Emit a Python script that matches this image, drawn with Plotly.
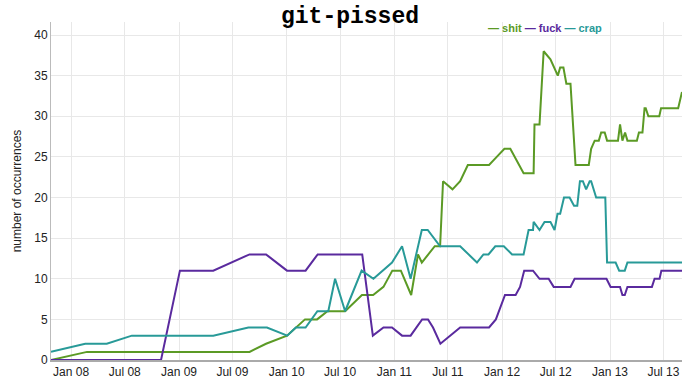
import plotly.graph_objects as go

# ---- data ----
shit_dates = ["2007-10-25", "2008-02-24", "2009-08-28", "2009-10-23", "2010-01-02", "2010-03-04",
              "2010-04-14", "2010-05-19", "2010-07-18", "2010-09-13", "2010-10-21", "2010-11-25",
              "2010-12-25", "2011-01-23", "2011-02-27", "2011-03-22", "2011-04-04", "2011-05-18",
              "2011-06-05", "2011-06-15", "2011-07-17", "2011-08-12", "2011-09-07", "2011-11-18",
              "2011-12-14", "2012-01-09", "2012-01-29", "2012-03-14", "2012-04-17", "2012-04-20",
              "2012-05-07", "2012-05-21", "2012-06-13", "2012-07-08", "2012-07-16", "2012-07-27",
              "2012-08-06", "2012-08-20", "2012-09-06", "2012-10-21", "2012-10-29", "2012-11-10",
              "2012-11-24", "2012-12-02", "2012-12-14", "2012-12-22", "2013-01-28", "2013-02-04",
              "2013-02-12", "2013-02-21", "2013-03-01", "2013-04-02", "2013-04-09", "2013-04-21",
              "2013-04-28", "2013-05-02", "2013-05-11", "2013-06-17", "2013-06-23", "2013-08-20",
              "2013-09-02"]
shit_values = [0, 1, 1, 2, 3, 5,
               5, 6, 6, 8, 8, 9,
               11, 11, 8, 13, 12, 14,
               14, 22, 21, 22, 24, 24,
               25, 26, 26, 23, 23, 29,
               29, 38, 37, 35, 36, 36,
               34, 34, 24, 24, 26, 27,
               27, 28, 28, 27, 27, 29,
               27, 28, 27, 27, 28, 28,
               31, 31, 30, 30, 31, 31,
               33]

fuck_dates = ["2007-10-25", "2008-11-01", "2009-01-04", "2009-04-27", "2009-08-28", "2009-10-23",
              "2010-01-02", "2010-03-06", "2010-04-16", "2010-09-14", "2010-10-20", "2010-11-25",
              "2010-12-24", "2011-01-27", "2011-02-25", "2011-03-18", "2011-04-05", "2011-04-25",
              "2011-05-12", "2011-06-06", "2011-08-12", "2011-11-18", "2011-12-11", "2012-01-11",
              "2012-02-16", "2012-03-02", "2012-03-16", "2012-04-15", "2012-05-07", "2012-06-07",
              "2012-06-24", "2012-08-20", "2012-09-03", "2012-12-20", "2013-01-03", "2013-02-04",
              "2013-02-12", "2013-02-20", "2013-03-01", "2013-05-23", "2013-06-01", "2013-06-18",
              "2013-06-24", "2013-09-02"]
fuck_values = [0, 0, 11, 11, 13, 13,
               11, 11, 13, 13, 3, 4,
               4, 3, 3, 4, 5, 5,
               4, 2, 4, 4, 5, 8,
               8, 9, 11, 11, 10, 10,
               9, 9, 10, 10, 9, 9,
               8, 8, 9, 9, 10, 10,
               11, 11]

crap_dates = ["2007-10-25", "2008-02-18", "2008-05-01", "2008-07-25", "2009-04-27", "2009-08-24",
              "2009-10-26", "2010-01-03", "2010-02-01", "2010-03-06", "2010-04-15", "2010-05-22",
              "2010-06-14", "2010-07-18", "2010-09-12", "2010-10-22", "2010-12-24", "2011-01-27",
              "2011-02-25", "2011-04-04", "2011-04-24", "2011-06-05", "2011-08-12", "2011-10-08",
              "2011-10-30", "2011-11-16", "2011-12-09", "2012-01-07", "2012-02-04", "2012-03-14",
              "2012-03-31", "2012-04-15", "2012-04-17", "2012-05-07", "2012-05-24", "2012-06-13",
              "2012-06-27", "2012-07-07", "2012-07-16", "2012-07-29", "2012-08-17", "2012-09-01",
              "2012-09-12", "2012-09-21", "2012-10-01", "2012-10-12", "2012-10-24", "2012-10-29",
              "2012-11-15", "2012-12-16", "2012-12-22", "2013-01-20", "2013-02-01", "2013-02-20",
              "2013-03-01", "2013-09-02"]
crap_values = [1, 2, 2, 3, 3, 4,
               4, 3, 4, 4, 6, 6,
               10, 6, 11, 10, 12, 14,
               10, 16, 16, 14, 14, 12,
               13, 13, 14, 14, 13, 13,
               16, 16, 17, 16, 17, 17,
               16, 18, 18, 20, 20, 19,
               19, 22, 22, 21, 22, 22,
               20, 20, 12, 12, 11, 11,
               12, 12]

series_names = ["shit", "fuck", "crap"]
series_colors = ["#5b9a25", "#5a2a9e", "#289a98"]

x_tick_vals = ["2008-01-01", "2008-07-01", "2009-01-01", "2009-07-01", "2010-01-01", "2010-07-01",
               "2011-01-01", "2011-07-01", "2012-01-01", "2012-07-01", "2013-01-01", "2013-07-01"]
x_tick_text = ["Jan 08", "Jul 08", "Jan 09", "Jul 09", "Jan 10", "Jul 10",
               "Jan 11", "Jul 11", "Jan 12", "Jul 12", "Jan 13", "Jul 13"]
y_tick_vals = [0, 5, 10, 15, 20, 25, 30, 35, 40]

fig = go.Figure()
for name, dates, vals, col in zip(series_names,
                                  [shit_dates, fuck_dates, crap_dates],
                                  [shit_values, fuck_values, crap_values],
                                  series_colors):
    fig.add_trace(go.Scatter(x=dates, y=vals, mode="lines", name=name,
                             line=dict(color=col, width=2), showlegend=False))

legend_html = " ".join(
    f'<span style="color:{c}"><b>\u2014 {n}</b></span>' for n, c in zip(series_names, series_colors)
)

fig.update_layout(
    width=700, height=388,
    margin=dict(l=51, r=18, t=22, b=28),
    paper_bgcolor="white", plot_bgcolor="white",
    font=dict(family="Liberation Sans, Arial, sans-serif", size=12, color="#222"),
    title=dict(text="<b>git-pissed</b>", x=0.5, xanchor="center",
               y=1 - 15 / 388, yanchor="middle", yref="container",
               font=dict(family="Liberation Mono, Courier New, monospace", size=23, color="#000")),
    xaxis=dict(type="date", range=["2007-10-25", "2013-09-02"],
               tickvals=x_tick_vals, ticktext=x_tick_text, automargin=False,
               showgrid=True, gridcolor="#e8e8e8", gridwidth=1,
               showline=True, linecolor="#aaaaaa", linewidth=2,
               ticks="", zeroline=False, tickfont=dict(size=12, color="#222")),
    yaxis=dict(range=[0, 41.6], tickvals=y_tick_vals, automargin=False,
               showgrid=True, gridcolor="#e8e8e8", gridwidth=1,
               showline=True, linecolor="#bbbbbb", linewidth=1,
               ticks="", zeroline=False, tickfont=dict(size=12, color="#222"),
               title=dict(text="number of occurrences", standoff=10,
                          font=dict(size=12, color="#222"))),
    annotations=[dict(text=legend_html, xref="paper", yref="paper",
                      x=(603.3 - 50.7) / 631, y=(360 - 28) / 338,
                      xanchor="right", yanchor="middle", showarrow=False,
                      font=dict(size=11, family="Liberation Sans, Arial, sans-serif"))],
)

fig.write_html("out.html", config={"displayModeBar": False},
               post_script="document.body.style.margin='0';document.body.style.overflow='hidden';")
